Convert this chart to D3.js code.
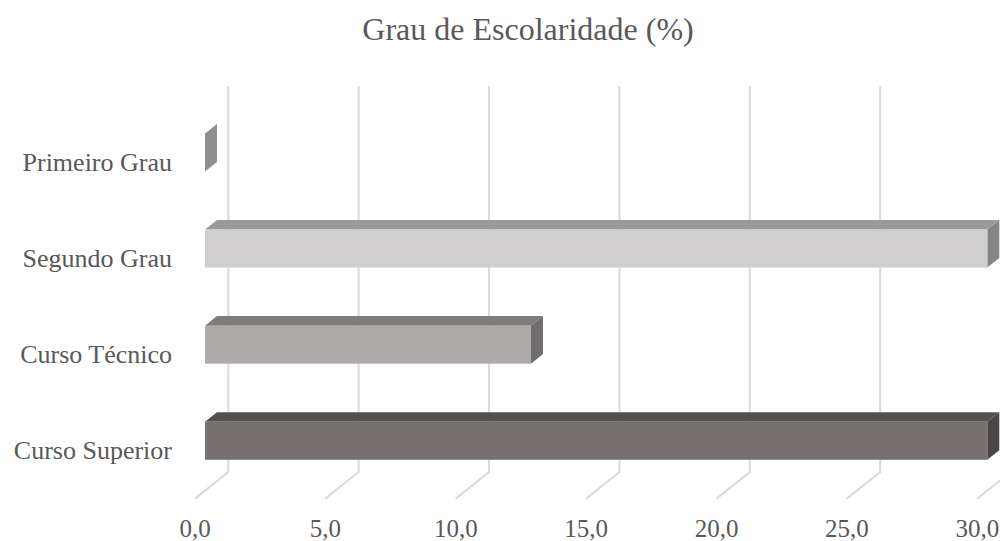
<!DOCTYPE html>
<html>
<head>
<meta charset="utf-8">
<script src="https://cdn.jsdelivr.net/npm/d3@7"></script>
<style>
  html, body { margin: 0; padding: 0; background: #ffffff; }
  svg { display: block; }
</style>
</head>
<body>
<svg id="chart" width="1000" height="541"></svg>
<script>
// Grau de Escolaridade (%) — horizontal 3D bar chart
const categories = ["Primeiro Grau", "Segundo Grau", "Curso Técnico", "Curso Superior"];
const values = [0.0, 30.0, 12.5, 30.0];
const tickValues = [0, 5, 10, 15, 20, 25, 30];
const tickLabels = ["0,0", "5,0", "10,0", "15,0", "20,0", "25,0", "30,0"];

// face colours per bar: front, top, side
const frontColors = ["#a5a5a5", "#d0cece", "#aeaaa9", "#767170"];
const topColors   = ["#9a9a9a", "#9a9a9a", "#807c7b", "#555050"];
const sideColors  = ["#8f8f8f", "#868686", "#6f6d6d", "#4a4646"];

const svg = d3.select("#chart");

// value scale on the front plane of the bars
const x = d3.scaleLinear().domain([0, 30]).range([205, 987.3]);
// category centres on the front plane
const y = d3.scalePoint().domain(categories).range([152.5, 440.8]);

const barH = 38;
const slope = -0.8;              // vertical shift per px of depth
const barDepth = 12;             // depth of each bar
const wallDepth = 23.3;          // from bar front to back wall
const floorFront = -10;          // from bar front to front edge of floor
const wallTop = 86, wallBottom = 472;
const textColor = "#595959";
const gridColor = "#d9d9d9";
const serif = "'Liberation Serif', 'Times New Roman', serif";

// title
svg.append("text")
  .attr("x", 528).attr("y", 40)
  .attr("text-anchor", "middle")
  .attr("font-family", serif)
  .attr("font-size", 32)
  .attr("fill", textColor)
  .text("Grau de Escolaridade (%)");

// back-wall gridlines and floor lines
const grid = svg.append("g");
tickValues.forEach(v => {
  const xb = x(v) + wallDepth;
  const xf = x(v) + floorFront;
  const yf = wallBottom + (wallDepth - floorFront) * -slope;
  grid.append("path")
    .attr("d", `M${xb},${wallTop} L${xb},${wallBottom} L${xf},${yf}`)
    .attr("fill", "none")
    .attr("stroke", gridColor)
    .attr("stroke-width", 2);
});

// tick labels, centred under the floor's front edge
svg.append("g").selectAll("text")
  .data(tickValues)
  .join("text")
  .attr("x", d => x(d) + floorFront)
  .attr("y", 537)
  .attr("text-anchor", "middle")
  .attr("font-family", serif)
  .attr("font-size", 25)
  .attr("fill", textColor)
  .text((d, i) => tickLabels[i]);

// category labels
svg.append("g").selectAll("text")
  .data(categories)
  .join("text")
  .attr("x", 172)
  .attr("y", d => y(d) + 18.5)
  .attr("text-anchor", "end")
  .attr("font-family", serif)
  .attr("font-size", 26)
  .attr("fill", textColor)
  .text(d => d);

// 3D bars
const bars = svg.append("g");
const dx = barDepth, dy = barDepth * slope;
categories.forEach((c, i) => {
  const x0 = x(0), x1 = x(values[i]);
  const yt = y(c) - barH / 2, yb = y(c) + barH / 2;
  const g = bars.append("g");
  // top face
  g.append("path")
    .attr("d", `M${x0},${yt} L${x0 + dx},${yt + dy} L${x1 + dx},${yt + dy} L${x1},${yt} Z`)
    .attr("fill", topColors[i]);
  // end (side) face
  g.append("path")
    .attr("d", `M${x1},${yt} L${x1 + dx},${yt + dy} L${x1 + dx},${yb + dy} L${x1},${yb} Z`)
    .attr("fill", sideColors[i]);
  // front face
  if (x1 > x0) {
    g.append("rect")
      .attr("x", x0).attr("y", yt)
      .attr("width", x1 - x0).attr("height", barH)
      .attr("fill", frontColors[i]);
  }
});
</script>
</body>
</html>
